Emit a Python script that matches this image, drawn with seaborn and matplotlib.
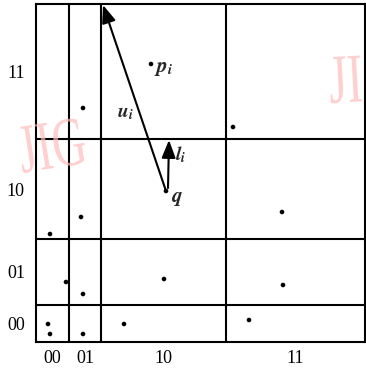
import numpy as np
import pandas as pd
import seaborn as sns
from matplotlib import pyplot as plt
from matplotlib.textpath import TextPath
from matplotlib.patches import PathPatch
from matplotlib.font_manager import FontProperties
from matplotlib.transforms import Affine2D, IdentityTransform

# cell boundaries of the partition
x_edges = [0, 33, 65, 190, 329]
y_edges = [0, 37, 103, 203, 338]
x_labels = ["00", "01", "10", "11"]
y_labels = ["00", "01", "10", "11"]

# data points
px = [115, 47, 197, 130, 14, 45, 30, 47, 12, 14, 47, 88, 128, 246, 247, 213]
py = [278, 234, 215, 151, 108, 125, 60, 48, 18, 8, 8, 18, 63, 130, 57, 22]

q = (130, 151)
u_tip = (67, 337)
l_tip = (133, 202)

sns.set_theme(style="white")
plt.rcParams["font.family"] = ["Liberation Serif", "DejaVu Serif"]
plt.rcParams["mathtext.fontset"] = "stix"

df = pd.DataFrame({"x": px, "y": py})

fig = plt.figure(figsize=(3.66, 3.70), dpi=100)
ax = fig.add_axes([36 / 366, 28 / 370, 329 / 366, 338 / 370])

sns.scatterplot(data=df, x="x", y="y", ax=ax, color="black", s=11,
                edgecolor="none", zorder=3)

# grid of the partition
for xe in x_edges[1:-1]:
    ax.axvline(xe, color="black", lw=1.5)
for ye in y_edges[1:-1]:
    ax.axhline(ye, color="black", lw=1.5)

ax.set_xlim(x_edges[0], x_edges[-1])
ax.set_ylim(y_edges[0], y_edges[-1])
for s in ax.spines.values():
    s.set_color("black")
    s.set_linewidth(1.5)

xc = [(a + b) / 2 for a, b in zip(x_edges[:-1], x_edges[1:])]
yc = [(a + b) / 2 for a, b in zip(y_edges[:-1], y_edges[1:])]
ax.set_xticks(xc, x_labels)
ax.set_yticks(yc, y_labels)
ax.tick_params(length=0, labelsize=13, colors="black")
ax.tick_params(axis="x", pad=6)
ax.tick_params(axis="y", pad=8)
ax.set_xlabel("")
ax.set_ylabel("")

# vectors
arrow = dict(arrowstyle="-|>,head_length=0.9,head_width=0.35", color="black",
             lw=1.5, shrinkA=0, shrinkB=0)
ax.annotate("", xy=u_tip, xytext=q, arrowprops=arrow)
ax.annotate("", xy=l_tip, xytext=(q[0] + 2, q[1] + 3), arrowprops=arrow)

ax.text(118, 273, r"$\mathbfit{p}_{\mathbfit{i}}$", fontsize=15, ha="left", va="center")
ax.text(81, 229, r"$\mathbfit{u}_{\mathbfit{i}}$", fontsize=14, ha="left", va="center")
ax.text(139, 187, r"$\mathbfit{l}_{\mathbfit{i}}$", fontsize=14, ha="left", va="center")
ax.text(135, 143, r"$\mathbfit{q}$", fontsize=15, ha="left", va="center")

# watermark, tall and narrow letters
for x0, y0, txt in [(22, 370 - 173, "JIG"), (330, 370 - 103, "JI")]:
    path = TextPath((0, 0), txt, size=1,
                    prop=FontProperties(family="Liberation Serif"))
    tr = Affine2D().scale(47, 70).rotate_deg(9 if txt == "JIG" else 3).translate(x0, y0)
    patch = PathPatch(path, transform=tr + IdentityTransform(),
                      facecolor="#ffbcbc", edgecolor="none", alpha=0.7, zorder=0)
    fig.patches.append(patch)
    patch.set_figure(fig)

fig.savefig("out.png", dpi=100)
